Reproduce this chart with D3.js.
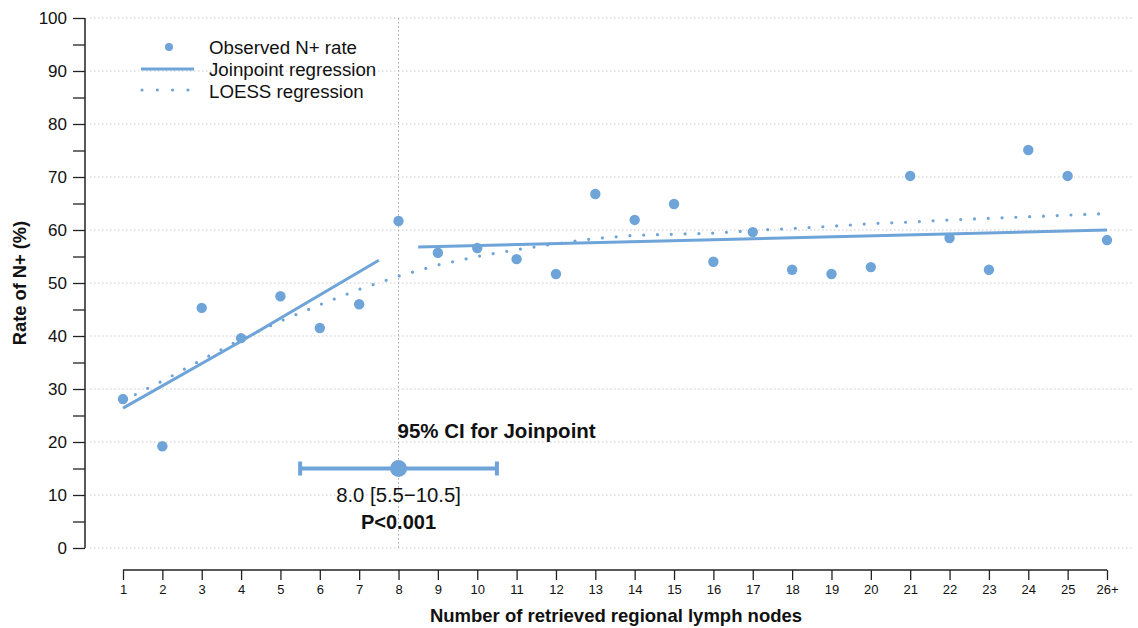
<!DOCTYPE html>
<html>
<head>
<meta charset="utf-8">
<script src="https://cdn.jsdelivr.net/npm/d3@7"></script>
<style>
  body { margin: 0; background: #fff; }
  svg text { font-family: "Liberation Sans", Arial, sans-serif; fill: #111; }
</style>
</head>
<body>
<svg width="1138" height="628"></svg>
<script>
// node counts (26 means 26+)
var nodes = [1,2,3,4,5,6,7,8,9,10,11,12,13,14,15,16,17,18,19,20,21,22,23,24,25,26];
var xLabels = ["1","2","3","4","5","6","7","8","9","10","11","12","13","14","15","16","17","18","19","20","21","22","23","24","25","26+"];
// observed N+ rate (%)
var observed = [28.1,19.2,45.3,39.6,47.5,41.5,46.0,61.7,55.7,56.6,54.5,51.7,66.8,61.9,64.9,54.0,59.6,52.5,51.7,53.0,70.2,58.5,52.5,75.1,70.2,58.1];
// LOESS fit
var loess = [27.8,31.5,35.5,39.4,42.8,45.9,48.8,51.3,53.4,55.0,56.3,57.4,58.4,59.0,59.2,59.4,59.9,60.3,60.7,61.2,61.5,61.9,62.2,62.5,62.8,63.1];
// joinpoint segments [x, rate]
var joinSeg1 = [[1,26.4],[4,39.0],[7.5,54.3]];
var joinSeg2 = [[8.5,56.8],[26,60.0]];
// joinpoint estimate with 95% CI
var joinpoint = 8.0, ciLow = 5.5, ciHigh = 10.5, ciY = 15;
var yTicks = d3.range(0, 101, 10);
var yMinor = d3.range(0, 101, 5);

var blue = "#6fa4d9";
var svg = d3.select("svg");

var x = d3.scaleLinear().domain([1, 26]).range([123, 1107]);
var y = d3.scaleLinear().domain([0, 100]).range([548, 18]);

// grid
svg.append("g").selectAll("line")
    .data(yTicks)
    .enter().append("line")
    .attr("x1", 90).attr("x2", 1132)
    .attr("y1", function(d) { return y(d); })
    .attr("y2", function(d) { return y(d); })
    .attr("stroke", "#c8c8c8")
    .attr("stroke-width", 1)
    .attr("stroke-dasharray", "1.5 2.5");

svg.append("line")
    .attr("x1", x(joinpoint)).attr("x2", x(joinpoint))
    .attr("y1", y(100)).attr("y2", y(0))
    .attr("stroke", "#a8a8a8")
    .attr("stroke-dasharray", "1.5 2.5");

// y axis
var yAxis = svg.append("g").attr("transform", "translate(85,0)")
    .call(d3.axisLeft(y).tickValues(yMinor).tickSize(12)
        .tickFormat(function(d) { return d % 10 === 0 ? d : ""; }));
yAxis.select(".domain").attr("stroke", "#222").attr("stroke-width", 1.5)
    .attr("d", "M0," + y(0) + "V" + y(100));
yAxis.selectAll(".tick line").attr("stroke", "#222").attr("stroke-width", 1.3);
yAxis.selectAll("text").attr("font-size", 17).attr("x", -18).attr("fill", "#111");

// x axis
var xAxis = svg.append("g").attr("transform", "translate(0,570)")
    .call(d3.axisBottom(x).tickValues(nodes).tickSize(10)
        .tickFormat(function(d, i) { return xLabels[i]; }));
xAxis.select(".domain").attr("stroke", "#222").attr("stroke-width", 1.5)
    .attr("d", "M" + x(1) + ",0H" + x(26));
xAxis.selectAll(".tick line").attr("stroke", "#222").attr("stroke-width", 1.3);
xAxis.selectAll("text").attr("font-size", 13).attr("y", 15).attr("fill", "#111");

// titles
svg.append("text")
    .attr("x", 616).attr("y", 622)
    .attr("text-anchor", "middle")
    .attr("font-size", 18.5).attr("font-weight", "bold")
    .text("Number of retrieved regional lymph nodes");
svg.append("text")
    .attr("transform", "translate(26,283) rotate(-90)")
    .attr("text-anchor", "middle")
    .attr("font-size", 18.3).attr("font-weight", "bold")
    .text("Rate of N+ (%)");

// LOESS dotted
var line = d3.line().x(function(d) { return x(d[0]); }).y(function(d) { return y(d[1]); });
svg.append("path")
    .datum(nodes.map(function(n, i) { return [n, loess[i]]; }))
    .attr("d", line)
    .attr("fill", "none")
    .attr("stroke", blue)
    .attr("stroke-width", 3.2)
    .attr("stroke-linecap", "round")
    .attr("stroke-dasharray", "0 13.8");

// joinpoint
[joinSeg1, joinSeg2].forEach(function(seg) {
    svg.append("path")
        .datum(seg)
        .attr("d", line)
        .attr("fill", "none")
        .attr("stroke", blue)
        .attr("stroke-width", 3);
});

// observed points
svg.append("g").selectAll("circle")
    .data(nodes)
    .enter().append("circle")
    .attr("cx", function(d) { return x(d); })
    .attr("cy", function(d, i) { return y(observed[i]); })
    .attr("r", 5.2)
    .attr("fill", blue);

// CI bar
var ci = svg.append("g");
ci.append("line")
    .attr("x1", x(ciLow)).attr("x2", x(ciHigh))
    .attr("y1", y(ciY)).attr("y2", y(ciY))
    .attr("stroke", blue).attr("stroke-width", 4);
[ciLow, ciHigh].forEach(function(v) {
    ci.append("line")
        .attr("x1", x(v)).attr("x2", x(v))
        .attr("y1", y(ciY) - 7).attr("y2", y(ciY) + 7)
        .attr("stroke", blue).attr("stroke-width", 4);
});
ci.append("circle")
    .attr("cx", x(joinpoint)).attr("cy", y(ciY))
    .attr("r", 8.5).attr("fill", blue);

svg.append("text")
    .attr("x", x(joinpoint) - 1).attr("y", 438)
    .attr("font-size", 20.5).attr("font-weight", "bold")
    .text("95% CI for Joinpoint");
svg.append("text")
    .attr("x", x(joinpoint)).attr("y", 502)
    .attr("text-anchor", "middle")
    .attr("font-size", 20.3)
    .text("8.0 [5.5\u221210.5]");
svg.append("text")
    .attr("x", x(joinpoint)).attr("y", 529)
    .attr("text-anchor", "middle")
    .attr("font-size", 20).attr("font-weight", "bold")
    .text("P<0.001");

// legend
var legend = svg.append("g");
legend.append("circle").attr("cx", 169).attr("cy", 47).attr("r", 4).attr("fill", blue);
legend.append("line").attr("x1", 141).attr("x2", 194).attr("y1", 69).attr("y2", 69)
    .attr("stroke", blue).attr("stroke-width", 3);
legend.append("line").attr("x1", 142).attr("x2", 190).attr("y1", 90).attr("y2", 90)
    .attr("stroke", blue).attr("stroke-width", 3.2)
    .attr("stroke-linecap", "round").attr("stroke-dasharray", "0 15.3");
legend.selectAll("text")
    .data(["Observed N+ rate", "Joinpoint regression", "LOESS regression"])
    .enter().append("text")
    .attr("x", 209)
    .attr("y", function(d, i) { return 54 + i * 22; })
    .attr("font-size", 18.7)
    .text(function(d) { return d; });
</script>
</body>
</html>
